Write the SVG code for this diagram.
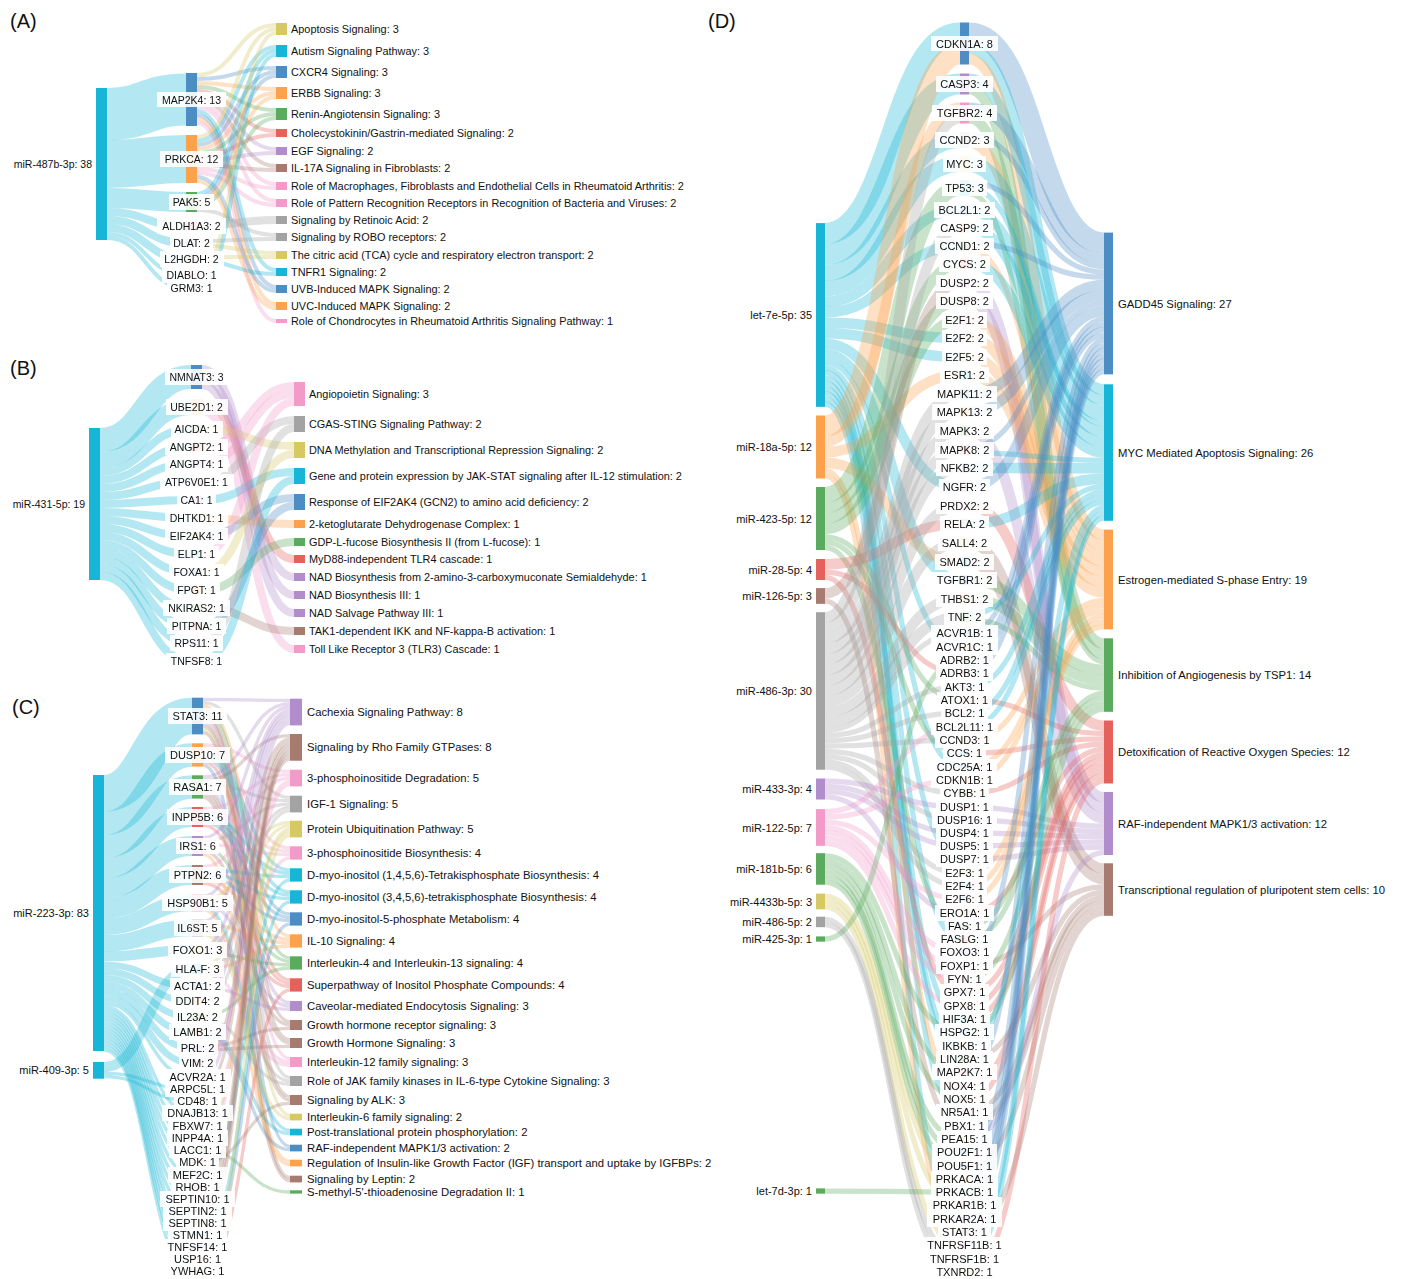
<svg xmlns="http://www.w3.org/2000/svg" width="1402" height="1279" viewBox="0 0 1402 1279">
<defs>
<filter id="bg" x="-0.08" y="-0.12" width="1.16" height="1.24" color-interpolation-filters="sRGB"><feFlood flood-color="#ffffff" flood-opacity="0.9" result="f"/><feMerge><feMergeNode in="f"/><feMergeNode in="SourceGraphic"/></feMerge></filter>
<style>
text{font-family:"Liberation Sans",Arial,Helvetica,sans-serif;fill:#111;dominant-baseline:central}
.ttl{font-size:20px;dominant-baseline:auto}
.a10{font-size:10.9px}.a105{font-size:10.5px}.a11{font-size:11px}.a113{font-size:11.3px}
.mid{text-anchor:middle;filter:url(#bg)}
.end{text-anchor:end}
.lk path{fill:none;stroke-opacity:.33}
.sb{stroke:#4c8dc4}.sc{stroke:#17b6d6}.so{stroke:#fca24c}.sg{stroke:#5aab5e}.sr{stroke:#e5615c}.sp{stroke:#b18dcc}.sn{stroke:#a77b70}.sk{stroke:#f29bc8}.sy{stroke:#a3a3a3}.sl{stroke:#d6c963}
.fb{fill:#4c8dc4}.fc{fill:#17b6d6}.fo{fill:#fca24c}.fg{fill:#5aab5e}.fr{fill:#e5615c}.fp{fill:#b18dcc}.fn{fill:#a77b70}.fk{fill:#f29bc8}.fy{fill:#a3a3a3}.fl{fill:#d6c963}
.d1{stroke-width:5.25}.d2{stroke-width:10.5}.d3{stroke-width:15.75}.d4{stroke-width:21}
</style>
</defs>
<rect width="1402" height="1279" fill="#ffffff"/>

<!-- ================= PANEL A ================= -->
<g id="panel-A">
<text class="ttl" x="10" y="28">(A)</text>
<g id="links-A" class="lk">
<path class="sc" stroke-width="52" d="M107,114C146,114 146,99.5 186,99.5"/>
<path class="sc" stroke-width="48" d="M107,164C146,164 146,159 186,159"/>
<path class="sc" stroke-width="20" d="M107,198C146,198 146,202 186,202"/>
<path class="sc" stroke-width="8" d="M107,212C146,212 146,226 186,226"/>
<path class="sc" stroke-width="8" d="M107,220C146,220 146,243 186,243"/>
<path class="sc" stroke-width="8" d="M107,228C146,228 146,259 186,259"/>
<path class="sc" stroke-width="4" d="M107,234C146,234 146,275 186,275"/>
<path class="sc" stroke-width="4" d="M107,238C146,238 146,288 186,288"/>
<g stroke-width="4">
<path class="sl" d="M197,75C236,75 236,25 276,25"/>
<path class="sb" d="M197,79C236,79 236,68 276,68"/>
<path class="so" d="M197,83C236,83 236,89 276,89"/>
<path class="sg" d="M197,87C236,87 236,110 276,110"/>
<path class="sr" d="M197,91C236,91 236,131 276,131"/>
<path class="sp" d="M197,95C236,95 236,149 276,149"/>
<path class="sn" d="M197,99C236,99 236,166 276,166"/>
<path class="sk" d="M197,103C236,103 236,184 276,184"/>
<path class="sk" d="M197,107C236,107 236,201 276,201"/>
<path class="sc" d="M197,111C236,111 236,270 276,270"/>
<path class="sb" d="M197,115C236,115 236,287 276,287"/>
<path class="so" d="M197,119C236,119 236,304 276,304"/>
<path class="sk" d="M197,123C236,123 236,321 276,321"/>
<path class="sl" d="M197,137C236,137 236,29 276,29"/>
<path class="sc" d="M197,141C236,141 236,47 276,47"/>
<path class="sb" d="M197,145C236,145 236,72 276,72"/>
<path class="so" d="M197,149C236,149 236,93 276,93"/>
<path class="sg" d="M197,153C236,153 236,114 276,114"/>
<path class="sr" d="M197,157C236,157 236,135 276,135"/>
<path class="sp" d="M197,161C236,161 236,153 276,153"/>
<path class="sn" d="M197,165C236,165 236,170 276,170"/>
<path class="sk" d="M197,169C236,169 236,188 276,188"/>
<path class="sk" d="M197,173C236,173 236,205 276,205"/>
<path class="sb" d="M197,177C236,177 236,291 276,291"/>
<path class="so" d="M197,181C236,181 236,308 276,308"/>
<path class="sc" d="M197,194C236,194 236,51 276,51"/>
<path class="sb" d="M197,198C236,198 236,76 276,76"/>
<path class="so" d="M197,202C236,202 236,97 276,97"/>
<path class="sg" d="M197,206C236,206 236,118 276,118"/>
<path class="sy" d="M197,210C236,210 236,235 276,235"/>
<path class="sy" stroke-width="8" d="M197,226C236,226 236,220 276,220"/>
<path class="sy" d="M197,241C236,241 236,239 276,239"/>
<path class="sl" d="M197,245C236,245 236,253 276,253"/>
<path class="sl" d="M197,257C236,257 236,257 276,257"/>
<path class="sc" d="M197,261C236,261 236,274 276,274"/>
<path class="sl" d="M197,275C236,275 236,33 276,33"/>
<path class="sc" d="M197,288C236,288 236,55 276,55"/>
</g>
</g>
<g id="nodes-A">
<g id="A-miR-487b-3p"><rect class="fc" x="96" y="88" width="11" height="152"/><text class="a105 end" x="92" y="164">miR-487b-3p: 38</text></g>
<g id="A-MAP2K4"><rect class="fb" x="186" y="73" width="11" height="53"/><text class="a105 mid" x="191.5" y="99.5">MAP2K4: 13</text></g>
<g id="A-PRKCA"><rect class="fo" x="186" y="135" width="11" height="48"/><text class="a105 mid" x="191.5" y="159">PRKCA: 12</text></g>
<g id="A-PAK5"><rect class="fg" x="186" y="192" width="11" height="20"/><text class="a105 mid" x="191.5" y="202">PAK5: 5</text></g>
<g id="A-ALDH1A3"><rect class="fr" x="186" y="222" width="11" height="8"/><text class="a105 mid" x="191.5" y="226">ALDH1A3: 2</text></g>
<g id="A-DLAT"><rect class="fp" x="186" y="239" width="11" height="8"/><text class="a105 mid" x="191.5" y="243">DLAT: 2</text></g>
<g id="A-L2HGDH"><rect class="fn" x="186" y="255" width="11" height="8"/><text class="a105 mid" x="191.5" y="259">L2HGDH: 2</text></g>
<g id="A-DIABLO"><rect class="fk" x="186" y="273" width="11" height="4"/><text class="a105 mid" x="191.5" y="275">DIABLO: 1</text></g>
<g id="A-GRM3"><rect class="fy" x="186" y="286" width="11" height="4"/><text class="a105 mid" x="191.5" y="288">GRM3: 1</text></g>
<g id="A-p1"><rect class="fl" x="276" y="23" width="11" height="12"/><text class="a10" x="291" y="29">Apoptosis Signaling: 3</text></g>
<g id="A-p2"><rect class="fc" x="276" y="45" width="11" height="12"/><text class="a10" x="291" y="51">Autism Signaling Pathway: 3</text></g>
<g id="A-p3"><rect class="fb" x="276" y="66" width="11" height="12"/><text class="a10" x="291" y="72">CXCR4 Signaling: 3</text></g>
<g id="A-p4"><rect class="fo" x="276" y="87" width="11" height="12"/><text class="a10" x="291" y="93">ERBB Signaling: 3</text></g>
<g id="A-p5"><rect class="fg" x="276" y="108" width="11" height="12"/><text class="a10" x="291" y="114">Renin-Angiotensin Signaling: 3</text></g>
<g id="A-p6"><rect class="fr" x="276" y="129" width="11" height="8"/><text class="a10" x="291" y="133">Cholecystokinin/Gastrin-mediated Signaling: 2</text></g>
<g id="A-p7"><rect class="fp" x="276" y="147" width="11" height="8"/><text class="a10" x="291" y="151">EGF Signaling: 2</text></g>
<g id="A-p8"><rect class="fn" x="276" y="164" width="11" height="8"/><text class="a10" x="291" y="168">IL-17A Signaling in Fibroblasts: 2</text></g>
<g id="A-p9"><rect class="fk" x="276" y="182" width="11" height="8"/><text class="a10" x="291" y="186">Role of Macrophages, Fibroblasts and Endothelial Cells in Rheumatoid Arthritis: 2</text></g>
<g id="A-p10"><rect class="fk" x="276" y="199" width="11" height="8"/><text class="a10" x="291" y="203">Role of Pattern Recognition Receptors in Recognition of Bacteria and Viruses: 2</text></g>
<g id="A-p11"><rect class="fy" x="276" y="216" width="11" height="8"/><text class="a10" x="291" y="220">Signaling by Retinoic Acid: 2</text></g>
<g id="A-p12"><rect class="fy" x="276" y="233" width="11" height="8"/><text class="a10" x="291" y="237">Signaling by ROBO receptors: 2</text></g>
<g id="A-p13"><rect class="fl" x="276" y="251" width="11" height="8"/><text class="a10" x="291" y="255">The citric acid (TCA) cycle and respiratory electron transport: 2</text></g>
<g id="A-p14"><rect class="fc" x="276" y="268" width="11" height="8"/><text class="a10" x="291" y="272">TNFR1 Signaling: 2</text></g>
<g id="A-p15"><rect class="fb" x="276" y="285" width="11" height="8"/><text class="a10" x="291" y="289">UVB-Induced MAPK Signaling: 2</text></g>
<g id="A-p16"><rect class="fo" x="276" y="302" width="11" height="8"/><text class="a10" x="291" y="306">UVC-Induced MAPK Signaling: 2</text></g>
<g id="A-p17"><rect class="fk" x="276" y="319" width="11" height="4"/><text class="a10" x="291" y="321">Role of Chondrocytes in Rheumatoid Arthritis Signaling Pathway: 1</text></g>
</g>
</g>

<!-- ================= PANEL B ================= -->
<g id="panel-B">
<text class="ttl" x="10" y="375">(B)</text>
<g id="links-B" class="lk">
<path class="sc" stroke-width="24" d="M100,440C145,440 145,377 191,377"/>
<path class="sc" stroke-width="16" d="M100,460C145,460 145,407 191,407"/>
<g stroke-width="8">
<path class="sc" d="M100,472C145,472 145,429 191,429"/>
<path class="sc" d="M100,480C145,480 145,447 191,447"/>
<path class="sc" d="M100,488C145,488 145,464 191,464"/>
<path class="sc" d="M100,496C145,496 145,482 191,482"/>
<path class="sc" d="M100,504C145,504 145,500 191,500"/>
<path class="sc" d="M100,512C145,512 145,518 191,518"/>
<path class="sc" d="M100,520C145,520 145,536 191,536"/>
<path class="sc" d="M100,528C145,528 145,554 191,554"/>
<path class="sc" d="M100,536C145,536 145,572 191,572"/>
<path class="sc" d="M100,544C145,544 145,590 191,590"/>
<path class="sc" d="M100,552C145,552 145,608 191,608"/>
<path class="sc" d="M100,560C145,560 145,626 191,626"/>
<path class="sc" d="M100,568C145,568 145,643 191,643"/>
<path class="sc" d="M100,576C145,576 145,661 191,661"/>
<path class="sp" d="M202,369C248,369 248,577 294,577"/>
<path class="sp" d="M202,377C248,377 248,595 294,595"/>
<path class="sp" d="M202,385C248,385 248,613 294,613"/>
<path class="sr" d="M202,403C248,403 248,559 294,559"/>
<path class="sk" d="M202,411C248,411 248,649 294,649"/>
<path class="sl" d="M202,429C248,429 248,446 294,446"/>
<path class="sk" d="M202,447C248,447 248,386 294,386"/>
<path class="sk" d="M202,464C248,464 248,394 294,394"/>
<path class="sy" d="M202,482C248,482 248,420 294,420"/>
<path class="sc" d="M202,500C248,500 248,472 294,472"/>
<path class="so" d="M202,518C248,518 248,524 294,524"/>
<path class="sb" d="M202,536C248,536 248,498 294,498"/>
<path class="sk" d="M202,554C248,554 248,402 294,402"/>
<path class="sl" d="M202,572C248,572 248,454 294,454"/>
<path class="sg" d="M202,590C248,590 248,542 294,542"/>
<path class="sn" d="M202,608C248,608 248,631 294,631"/>
<path class="sb" d="M202,626C248,626 248,506 294,506"/>
<path class="sy" d="M202,643C248,643 248,428 294,428"/>
<path class="sc" d="M202,661C248,661 248,480 294,480"/>
</g>
</g>
<g id="nodes-B">
<g id="B-miR-431-5p"><rect class="fc" x="89" y="428" width="11" height="152"/><text class="a105 end" x="85" y="504">miR-431-5p: 19</text></g>
<g id="B-NMNAT3"><rect class="fb" x="191" y="365" width="11" height="24"/><text class="a105 mid" x="196.5" y="377">NMNAT3: 3</text></g>
<g id="B-UBE2D1"><rect class="fo" x="191" y="399" width="11" height="16"/><text class="a105 mid" x="196.5" y="407">UBE2D1: 2</text></g>
<g id="B-AICDA"><rect class="fg" x="191" y="425" width="11" height="8"/><text class="a105 mid" x="196.5" y="429">AICDA: 1</text></g>
<g id="B-ANGPT2"><rect class="fr" x="191" y="443" width="11" height="8"/><text class="a105 mid" x="196.5" y="447">ANGPT2: 1</text></g>
<g id="B-ANGPT4"><rect class="fp" x="191" y="460" width="11" height="8"/><text class="a105 mid" x="196.5" y="464">ANGPT4: 1</text></g>
<g id="B-ATP6V0E1"><rect class="fn" x="191" y="478" width="11" height="8"/><text class="a105 mid" x="196.5" y="482">ATP6V0E1: 1</text></g>
<g id="B-CA1"><rect class="fk" x="191" y="496" width="11" height="8"/><text class="a105 mid" x="196.5" y="500">CA1: 1</text></g>
<g id="B-DHTKD1"><rect class="fy" x="191" y="514" width="11" height="8"/><text class="a105 mid" x="196.5" y="518">DHTKD1: 1</text></g>
<g id="B-EIF2AK4"><rect class="fl" x="191" y="532" width="11" height="8"/><text class="a105 mid" x="196.5" y="536">EIF2AK4: 1</text></g>
<g id="B-ELP1"><rect class="fc" x="191" y="550" width="11" height="8"/><text class="a105 mid" x="196.5" y="554">ELP1: 1</text></g>
<g id="B-FOXA1"><rect class="fb" x="191" y="568" width="11" height="8"/><text class="a105 mid" x="196.5" y="572">FOXA1: 1</text></g>
<g id="B-FPGT"><rect class="fo" x="191" y="586" width="11" height="8"/><text class="a105 mid" x="196.5" y="590">FPGT: 1</text></g>
<g id="B-NKIRAS2"><rect class="fg" x="191" y="604" width="11" height="8"/><text class="a105 mid" x="196.5" y="608">NKIRAS2: 1</text></g>
<g id="B-PITPNA"><rect class="fr" x="191" y="622" width="11" height="8"/><text class="a105 mid" x="196.5" y="626">PITPNA: 1</text></g>
<g id="B-RPS11"><rect class="fp" x="191" y="639" width="11" height="8"/><text class="a105 mid" x="196.5" y="643">RPS11: 1</text></g>
<g id="B-TNFSF8"><rect class="fn" x="191" y="657" width="11" height="8"/><text class="a105 mid" x="196.5" y="661">TNFSF8: 1</text></g>
<g id="B-p1"><rect class="fk" x="294" y="382" width="11" height="24"/><text class="a10" x="309" y="394">Angiopoietin Signaling: 3</text></g>
<g id="B-p2"><rect class="fy" x="294" y="416" width="11" height="16"/><text class="a10" x="309" y="424">CGAS-STING Signaling Pathway: 2</text></g>
<g id="B-p3"><rect class="fl" x="294" y="442" width="11" height="16"/><text class="a10" x="309" y="450">DNA Methylation and Transcriptional Repression Signaling: 2</text></g>
<g id="B-p4"><rect class="fc" x="294" y="468" width="11" height="16"/><text class="a10" x="309" y="476">Gene and protein expression by JAK-STAT signaling after IL-12 stimulation: 2</text></g>
<g id="B-p5"><rect class="fb" x="294" y="494" width="11" height="16"/><text class="a10" x="309" y="502">Response of EIF2AK4 (GCN2) to amino acid deficiency: 2</text></g>
<g id="B-p6"><rect class="fo" x="294" y="520" width="11" height="8"/><text class="a10" x="309" y="524">2-ketoglutarate Dehydrogenase Complex: 1</text></g>
<g id="B-p7"><rect class="fg" x="294" y="538" width="11" height="8"/><text class="a10" x="309" y="542">GDP-L-fucose Biosynthesis II (from L-fucose): 1</text></g>
<g id="B-p8"><rect class="fr" x="294" y="555" width="11" height="8"/><text class="a10" x="309" y="559">MyD88-independent TLR4 cascade: 1</text></g>
<g id="B-p9"><rect class="fp" x="294" y="573" width="11" height="8"/><text class="a10" x="309" y="577">NAD Biosynthesis from 2-amino-3-carboxymuconate Semialdehyde: 1</text></g>
<g id="B-p10"><rect class="fp" x="294" y="591" width="11" height="8"/><text class="a10" x="309" y="595">NAD Biosynthesis III: 1</text></g>
<g id="B-p11"><rect class="fp" x="294" y="609" width="11" height="8"/><text class="a10" x="309" y="613">NAD Salvage Pathway III: 1</text></g>
<g id="B-p12"><rect class="fn" x="294" y="627" width="11" height="8"/><text class="a10" x="309" y="631">TAK1-dependent IKK and NF-kappa-B activation: 1</text></g>
<g id="B-p13"><rect class="fk" x="294" y="645" width="11" height="8"/><text class="a10" x="309" y="649">Toll Like Receptor 3 (TLR3) Cascade: 1</text></g>
</g>
</g>

<!-- ================= PANEL C ================= -->
<g id="panel-C">
<text class="ttl" x="12" y="714">(C)</text>
<g id="links-C" class="lk">
<path class="sc" stroke-width="36.7" d="M104,793.3C148,793.3 148,716 192,716"/>
<path class="sc" stroke-width="23.3" d="M104,823.3C148,823.3 148,755 192,755"/>
<path class="sc" stroke-width="23.3" d="M104,846.6C148,846.6 148,787 192,787"/>
<path class="sc" stroke-width="20" d="M104,868.3C148,868.3 148,817 192,817"/>
<path class="sc" stroke-width="20" d="M104,888.3C148,888.3 148,846 192,846"/>
<path class="sc" stroke-width="20" d="M104,908.3C148,908.3 148,875 192,875"/>
<path class="sc" stroke-width="16.7" d="M104,926.6C148,926.6 148,903 192,903"/>
<path class="sc" stroke-width="16.7" d="M104,943.3C148,943.3 148,928 192,928"/>
<path class="sc" stroke-width="10" d="M104,956.6C148,956.6 148,950 192,950"/>
<path class="sc" stroke-width="6.7" d="M104,965C148,965 148,986 192,986"/>
<path class="sc" stroke-width="6.7" d="M104,971.6C148,971.6 148,1001 192,1001"/>
<path class="sc" stroke-width="6.7" d="M104,978.3C148,978.3 148,1017 192,1017"/>
<path class="sc" stroke-width="6.7" d="M104,985C148,985 148,1032 192,1032"/>
<path class="sc" stroke-width="6.7" d="M104,991.6C148,991.6 148,1048 192,1048"/>
<path class="sc" stroke-width="6.7" d="M104,998.3C148,998.3 148,1063 192,1063"/>
<path class="sc" stroke-width="10" d="M104,1067C148,1067 148,969 192,969"/>
<g stroke-width="3.33">
<path class="sc" d="M104,1003.3C148,1003.3 148,1077 192,1077"/>
<path class="sc" d="M104,1006.6C148,1006.6 148,1113 192,1113"/>
<path class="sc" d="M104,1010C148,1010 148,1126 192,1126"/>
<path class="sc" d="M104,1013.3C148,1013.3 148,1138 192,1138"/>
<path class="sc" d="M104,1016.6C148,1016.6 148,1150 192,1150"/>
<path class="sc" d="M104,1020C148,1020 148,1162 192,1162"/>
<path class="sc" d="M104,1023.3C148,1023.3 148,1175 192,1175"/>
<path class="sc" d="M104,1026.6C148,1026.6 148,1187 192,1187"/>
<path class="sc" d="M104,1030C148,1030 148,1199 192,1199"/>
<path class="sc" d="M104,1033.3C148,1033.3 148,1211 192,1211"/>
<path class="sc" d="M104,1036.6C148,1036.6 148,1223 192,1223"/>
<path class="sc" d="M104,1040C148,1040 148,1235 192,1235"/>
<path class="sc" d="M104,1043.3C148,1043.3 148,1247 192,1247"/>
<path class="sc" d="M104,1046.6C148,1046.6 148,1259 192,1259"/>
<path class="sc" d="M104,1050C148,1050 148,1271 192,1271"/>
<path class="sc" d="M104,1073.3C148,1073.3 148,1089 192,1089"/>
<path class="sc" d="M104,1076.7C148,1076.7 148,1101 192,1101"/>
<path class="sp" d="M203,699.4C246,699.4 246,700.4 290,700.4"/>
<path class="sy" d="M203,702.7C246,702.7 246,797.4 290,797.4"/>
<path class="so" d="M203,706C246,706 246,936 290,936"/>
<path class="sg" d="M203,709.4C246,709.4 246,958 290,958"/>
<path class="sn" d="M203,712.7C246,712.7 246,1021.7 290,1021.7"/>
<path class="sn" d="M203,716C246,716 246,1039.7 290,1039.7"/>
<path class="sk" d="M203,719.4C246,719.4 246,1058.7 290,1058.7"/>
<path class="sy" d="M203,722.7C246,722.7 246,1077.7 290,1077.7"/>
<path class="sn" d="M203,726C246,726 246,1096.7 290,1096.7"/>
<path class="sl" d="M203,729.4C246,729.4 246,1115.4 290,1115.4"/>
<path class="sn" d="M203,732.7C246,732.7 246,1177.4 290,1177.4"/>
<path class="sk" d="M203,745C246,745 246,771.4 290,771.4"/>
<path class="sk" d="M203,748.3C246,748.3 246,848 290,848"/>
<path class="sc" d="M203,751.6C246,751.6 246,870 290,870"/>
<path class="sc" d="M203,755C246,755 246,892 290,892"/>
<path class="sb" d="M203,758.3C246,758.3 246,914 290,914"/>
<path class="sr" d="M203,761.6C246,761.6 246,980 290,980"/>
<path class="sb" d="M203,765C246,765 246,1146.4 290,1146.4"/>
<path class="sp" d="M203,777C246,777 246,703.7 290,703.7"/>
<path class="sn" d="M203,780.3C246,780.3 246,735.7 290,735.7"/>
<path class="sy" d="M203,783.6C246,783.6 246,800.7 290,800.7"/>
<path class="sp" d="M203,787C246,787 246,1002.7 290,1002.7"/>
<path class="sn" d="M203,790.3C246,790.3 246,1043 290,1043"/>
<path class="sn" d="M203,793.6C246,793.6 246,1100 290,1100"/>
<path class="sn" d="M203,797C246,797 246,1180.7 290,1180.7"/>
<path class="sk" d="M203,808.7C246,808.7 246,774.7 290,774.7"/>
<path class="sk" d="M203,812C246,812 246,851.3 290,851.3"/>
<path class="sc" d="M203,815.3C246,815.3 246,873.3 290,873.3"/>
<path class="sc" d="M203,818.7C246,818.7 246,895.3 290,895.3"/>
<path class="sb" d="M203,822C246,822 246,917.3 290,917.3"/>
<path class="sr" d="M203,825.3C246,825.3 246,983.3 290,983.3"/>
<path class="sp" d="M203,837.7C246,837.7 246,707 290,707"/>
<path class="sy" d="M203,841C246,841 246,804 290,804"/>
<path class="sk" d="M203,844.3C246,844.3 246,854.6 290,854.6"/>
<path class="sg" d="M203,847.7C246,847.7 246,961.3 290,961.3"/>
<path class="sn" d="M203,851C246,851 246,1025 290,1025"/>
<path class="so" d="M203,854.3C246,854.3 246,1161.4 290,1161.4"/>
<path class="sk" d="M203,866.7C246,866.7 246,778 290,778"/>
<path class="sc" d="M203,870C246,870 246,876.6 290,876.6"/>
<path class="sc" d="M203,873.3C246,873.3 246,898.6 290,898.6"/>
<path class="sb" d="M203,876.7C246,876.7 246,920.6 290,920.6"/>
<path class="so" d="M203,880C246,880 246,939.3 290,939.3"/>
<path class="sr" d="M203,883.3C246,883.3 246,986.6 290,986.6"/>
<path class="sp" d="M203,896.4C246,896.4 246,710.4 290,710.4"/>
<path class="sl" d="M203,899.7C246,899.7 246,822.4 290,822.4"/>
<path class="sp" d="M203,903C246,903 246,1006 290,1006"/>
<path class="sc" d="M203,906.4C246,906.4 246,1130.4 290,1130.4"/>
<path class="so" d="M203,909.7C246,909.7 246,1164.7 290,1164.7"/>
<path class="sp" d="M203,921.4C246,921.4 246,713.7 290,713.7"/>
<path class="so" d="M203,924.7C246,924.7 246,942.6 290,942.6"/>
<path class="sk" d="M203,928C246,928 246,1062 290,1062"/>
<path class="sy" d="M203,931.4C246,931.4 246,1081 290,1081"/>
<path class="sl" d="M203,934.7C246,934.7 246,1118.7 290,1118.7"/>
<path class="sp" d="M203,946.7C246,946.7 246,717 290,717"/>
<path class="sy" d="M203,950C246,950 246,807.4 290,807.4"/>
<path class="sg" d="M203,953.3C246,953.3 246,964.6 290,964.6"/>
<path class="sl" d="M203,965.7C246,965.7 246,825.7 290,825.7"/>
<path class="so" d="M203,969C246,969 246,946 290,946"/>
<path class="sk" d="M203,972.3C246,972.3 246,1065.3 290,1065.3"/>
<path class="sn" d="M203,984.4C246,984.4 246,739 290,739"/>
<path class="sp" d="M203,987.7C246,987.7 246,1009.3 290,1009.3"/>
<path class="sp" d="M203,999.4C246,999.4 246,720.4 290,720.4"/>
<path class="sy" d="M203,1002.7C246,1002.7 246,810.7 290,810.7"/>
<path class="sg" d="M203,1015.4C246,1015.4 246,968 290,968"/>
<path class="sy" d="M203,1018.7C246,1018.7 246,1084.3 290,1084.3"/>
<path class="sc" d="M203,1030.4C246,1030.4 246,1133.7 290,1133.7"/>
<path class="sb" d="M203,1033.7C246,1033.7 246,1149.7 290,1149.7"/>
<path class="sn" d="M203,1046.4C246,1046.4 246,1028.3 290,1028.3"/>
<path class="sn" d="M203,1049.7C246,1049.7 246,1046.3 290,1046.3"/>
<path class="sn" d="M203,1061.4C246,1061.4 246,742.3 290,742.3"/>
<path class="sk" d="M203,1064.7C246,1064.7 246,781.4 290,781.4"/>
<path class="sp" d="M203,1077C246,1077 246,723.7 290,723.7"/>
<path class="sn" d="M203,1089C246,1089 246,745.7 290,745.7"/>
<path class="sk" d="M203,1101C246,1101 246,858 290,858"/>
<path class="sl" d="M203,1113C246,1113 246,829 290,829"/>
<path class="sl" d="M203,1126C246,1126 246,832.4 290,832.4"/>
<path class="sk" d="M203,1138C246,1138 246,784.7 290,784.7"/>
<path class="sg" d="M203,1150C246,1150 246,1192 290,1192"/>
<path class="sn" d="M203,1162C246,1162 246,1103.3 290,1103.3"/>
<path class="sc" d="M203,1175C246,1175 246,880 290,880"/>
<path class="sn" d="M203,1187C246,1187 246,749 290,749"/>
<path class="sn" d="M203,1199C246,1199 246,752.3 290,752.3"/>
<path class="sn" d="M203,1211C246,1211 246,755.7 290,755.7"/>
<path class="sn" d="M203,1223C246,1223 246,759 290,759"/>
<path class="sc" d="M203,1235C246,1235 246,902 290,902"/>
<path class="sb" d="M203,1247C246,1247 246,924 290,924"/>
<path class="sl" d="M203,1259C246,1259 246,835.7 290,835.7"/>
<path class="sr" d="M203,1271C246,1271 246,990 290,990"/>
</g>
</g>
<g id="nodes-C">
<g id="C-miR-223-3p"><rect class="fc" x="93" y="775" width="11" height="276"/><text class="a11 end" x="89" y="913">miR-223-3p: 83</text></g>
<g id="C-miR-409-3p"><rect class="fc" x="93" y="1062" width="11" height="16.7"/><text class="a11 end" x="89" y="1070">miR-409-3p: 5</text></g>
<g id="C-STAT3"><rect class="fb" x="192" y="697.7" width="11" height="36.7"/><text class="a11 mid" x="197.5" y="716">STAT3: 11</text></g>
<g id="C-DUSP10"><rect class="fo" x="192" y="743.3" width="11" height="23.3"/><text class="a11 mid" x="197.5" y="755">DUSP10: 7</text></g>
<g id="C-RASA1"><rect class="fg" x="192" y="775.3" width="11" height="23.3"/><text class="a11 mid" x="197.5" y="787">RASA1: 7</text></g>
<g id="C-INPP5B"><rect class="fr" x="192" y="807" width="11" height="20"/><text class="a11 mid" x="197.5" y="817">INPP5B: 6</text></g>
<g id="C-IRS1"><rect class="fp" x="192" y="836" width="11" height="20"/><text class="a11 mid" x="197.5" y="846">IRS1: 6</text></g>
<g id="C-PTPN2"><rect class="fn" x="192" y="865" width="11" height="20"/><text class="a11 mid" x="197.5" y="875">PTPN2: 6</text></g>
<g id="C-HSP90B1"><rect class="fk" x="192" y="894.7" width="11" height="16.7"/><text class="a11 mid" x="197.5" y="903">HSP90B1: 5</text></g>
<g id="C-IL6ST"><rect class="fy" x="192" y="919.7" width="11" height="16.7"/><text class="a11 mid" x="197.5" y="928">IL6ST: 5</text></g>
<g id="C-FOXO1"><rect class="fl" x="192" y="945" width="11" height="10"/><text class="a11 mid" x="197.5" y="950">FOXO1: 3</text></g>
<g id="C-HLA-F"><rect class="fc" x="192" y="964" width="11" height="10"/><text class="a11 mid" x="197.5" y="969">HLA-F: 3</text></g>
<g id="C-ACTA1"><rect class="fb" x="192" y="982.7" width="11" height="6.7"/><text class="a11 mid" x="197.5" y="986">ACTA1: 2</text></g>
<g id="C-DDIT4"><rect class="fo" x="192" y="997.7" width="11" height="6.7"/><text class="a11 mid" x="197.5" y="1001">DDIT4: 2</text></g>
<g id="C-IL23A"><rect class="fg" x="192" y="1013.7" width="11" height="6.7"/><text class="a11 mid" x="197.5" y="1017">IL23A: 2</text></g>
<g id="C-LAMB1"><rect class="fr" x="192" y="1028.7" width="11" height="6.7"/><text class="a11 mid" x="197.5" y="1032">LAMB1: 2</text></g>
<g id="C-PRL"><rect class="fp" x="192" y="1044.7" width="11" height="6.7"/><text class="a11 mid" x="197.5" y="1048">PRL: 2</text></g>
<g id="C-VIM"><rect class="fn" x="192" y="1059.7" width="11" height="6.7"/><text class="a11 mid" x="197.5" y="1063">VIM: 2</text></g>
<g id="C-ACVR2A"><rect class="fk" x="192" y="1075.3" width="11" height="3.3"/><text class="a11 mid" x="197.5" y="1077">ACVR2A: 1</text></g>
<g id="C-ARPC5L"><rect class="fy" x="192" y="1087.3" width="11" height="3.3"/><text class="a11 mid" x="197.5" y="1089">ARPC5L: 1</text></g>
<g id="C-CD48"><rect class="fl" x="192" y="1099.3" width="11" height="3.3"/><text class="a11 mid" x="197.5" y="1101">CD48: 1</text></g>
<g id="C-DNAJB13"><rect class="fc" x="192" y="1111.3" width="11" height="3.3"/><text class="a11 mid" x="197.5" y="1113">DNAJB13: 1</text></g>
<g id="C-FBXW7"><rect class="fb" x="192" y="1124.3" width="11" height="3.3"/><text class="a11 mid" x="197.5" y="1126">FBXW7: 1</text></g>
<g id="C-INPP4A"><rect class="fo" x="192" y="1136.3" width="11" height="3.3"/><text class="a11 mid" x="197.5" y="1138">INPP4A: 1</text></g>
<g id="C-LACC1"><rect class="fg" x="192" y="1148.3" width="11" height="3.3"/><text class="a11 mid" x="197.5" y="1150">LACC1: 1</text></g>
<g id="C-MDK"><rect class="fr" x="192" y="1160.3" width="11" height="3.3"/><text class="a11 mid" x="197.5" y="1162">MDK: 1</text></g>
<g id="C-MEF2C"><rect class="fp" x="192" y="1173.3" width="11" height="3.3"/><text class="a11 mid" x="197.5" y="1175">MEF2C: 1</text></g>
<g id="C-RHOB"><rect class="fn" x="192" y="1185.3" width="11" height="3.3"/><text class="a11 mid" x="197.5" y="1187">RHOB: 1</text></g>
<g id="C-SEPTIN10"><rect class="fk" x="192" y="1197.3" width="11" height="3.3"/><text class="a11 mid" x="197.5" y="1199">SEPTIN10: 1</text></g>
<g id="C-SEPTIN2"><rect class="fy" x="192" y="1209.3" width="11" height="3.3"/><text class="a11 mid" x="197.5" y="1211">SEPTIN2: 1</text></g>
<g id="C-SEPTIN8"><rect class="fl" x="192" y="1221.3" width="11" height="3.3"/><text class="a11 mid" x="197.5" y="1223">SEPTIN8: 1</text></g>
<g id="C-STMN1"><rect class="fc" x="192" y="1233.3" width="11" height="3.3"/><text class="a11 mid" x="197.5" y="1235">STMN1: 1</text></g>
<g id="C-TNFSF14"><rect class="fb" x="192" y="1245.3" width="11" height="3.3"/><text class="a11 mid" x="197.5" y="1247">TNFSF14: 1</text></g>
<g id="C-USP16"><rect class="fo" x="192" y="1257.3" width="11" height="3.3"/><text class="a11 mid" x="197.5" y="1259">USP16: 1</text></g>
<g id="C-YWHAG"><rect class="fg" x="192" y="1269.3" width="11" height="3.3"/><text class="a11 mid" x="197.5" y="1271">YWHAG: 1</text></g>
<g id="C-p1"><rect class="fp" x="290" y="698.7" width="12" height="26.7"/><text class="a113" x="307" y="712">Cachexia Signaling Pathway: 8</text></g>
<g id="C-p2"><rect class="fn" x="290" y="734" width="12" height="26.7"/><text class="a113" x="307" y="747.3">Signaling by Rho Family GTPases: 8</text></g>
<g id="C-p3"><rect class="fk" x="290" y="769.7" width="12" height="16.7"/><text class="a113" x="307" y="778">3-phosphoinositide Degradation: 5</text></g>
<g id="C-p4"><rect class="fy" x="290" y="795.7" width="12" height="16.7"/><text class="a113" x="307" y="804">IGF-1 Signaling: 5</text></g>
<g id="C-p5"><rect class="fl" x="290" y="820.7" width="12" height="16.7"/><text class="a113" x="307" y="829">Protein Ubiquitination Pathway: 5</text></g>
<g id="C-p6"><rect class="fk" x="290" y="846.3" width="12" height="13.3"/><text class="a113" x="307" y="853">3-phosphoinositide Biosynthesis: 4</text></g>
<g id="C-p7"><rect class="fc" x="290" y="868.3" width="12" height="13.3"/><text class="a113" x="307" y="875">D-myo-inositol (1,4,5,6)-Tetrakisphosphate Biosynthesis: 4</text></g>
<g id="C-p8"><rect class="fc" x="290" y="890.3" width="12" height="13.3"/><text class="a113" x="307" y="897">D-myo-inositol (3,4,5,6)-tetrakisphosphate Biosynthesis: 4</text></g>
<g id="C-p9"><rect class="fb" x="290" y="912.3" width="12" height="13.3"/><text class="a113" x="307" y="919">D-myo-inositol-5-phosphate Metabolism: 4</text></g>
<g id="C-p10"><rect class="fo" x="290" y="934.3" width="12" height="13.3"/><text class="a113" x="307" y="941">IL-10 Signaling: 4</text></g>
<g id="C-p11"><rect class="fg" x="290" y="956.3" width="12" height="13.3"/><text class="a113" x="307" y="963">Interleukin-4 and Interleukin-13 signaling: 4</text></g>
<g id="C-p12"><rect class="fr" x="290" y="978.3" width="12" height="13.3"/><text class="a113" x="307" y="985">Superpathway of Inositol Phosphate Compounds: 4</text></g>
<g id="C-p13"><rect class="fp" x="290" y="1001" width="12" height="10"/><text class="a113" x="307" y="1006">Caveolar-mediated Endocytosis Signaling: 3</text></g>
<g id="C-p14"><rect class="fn" x="290" y="1020" width="12" height="10"/><text class="a113" x="307" y="1025">Growth hormone receptor signaling: 3</text></g>
<g id="C-p15"><rect class="fn" x="290" y="1038" width="12" height="10"/><text class="a113" x="307" y="1043">Growth Hormone Signaling: 3</text></g>
<g id="C-p16"><rect class="fk" x="290" y="1057" width="12" height="10"/><text class="a113" x="307" y="1062">Interleukin-12 family signaling: 3</text></g>
<g id="C-p17"><rect class="fy" x="290" y="1076" width="12" height="10"/><text class="a113" x="307" y="1081">Role of JAK family kinases in IL-6-type Cytokine Signaling: 3</text></g>
<g id="C-p18"><rect class="fn" x="290" y="1095" width="12" height="10"/><text class="a113" x="307" y="1100">Signaling by ALK: 3</text></g>
<g id="C-p19"><rect class="fl" x="290" y="1113.7" width="12" height="6.7"/><text class="a113" x="307" y="1117">Interleukin-6 family signaling: 2</text></g>
<g id="C-p20"><rect class="fc" x="290" y="1128.7" width="12" height="6.7"/><text class="a113" x="307" y="1132">Post-translational protein phosphorylation: 2</text></g>
<g id="C-p21"><rect class="fb" x="290" y="1144.7" width="12" height="6.7"/><text class="a113" x="307" y="1148">RAF-independent MAPK1/3 activation: 2</text></g>
<g id="C-p22"><rect class="fo" x="290" y="1159.7" width="12" height="6.7"/><text class="a113" x="307" y="1163">Regulation of Insulin-like Growth Factor (IGF) transport and uptake by IGFBPs: 2</text></g>
<g id="C-p23"><rect class="fn" x="290" y="1175.7" width="12" height="6.7"/><text class="a113" x="307" y="1179">Signaling by Leptin: 2</text></g>
<g id="C-p24"><rect class="fg" x="290" y="1190.3" width="12" height="3.3"/><text class="a113" x="307" y="1192">S-methyl-5'-thioadenosine Degradation II: 1</text></g>
</g>
</g>

<!-- ================= PANEL D ================= -->
<g id="panel-D">
<text class="ttl" x="708" y="28">(D)</text>
<g id="links-D" class="lk">
<path class="sc d4" d="M825,233.6C892,233.6 892,33 960,33"/>
<path class="sc d4" d="M825,254.6C892,254.6 892,84 960,84"/>
<path class="sc d3" d="M825,273C892,273 892,140 960,140"/>
<path class="sc d3" d="M825,288.7C892,288.7 892,164 960,164"/>
<path class="sc d2" d="M825,301.85C892,301.85 892,210 960,210"/>
<path class="sc d2" d="M825,312.35C892,312.35 892,246 960,246"/>
<path class="sc d2" d="M825,322.85C892,322.85 892,338 960,338"/>
<path class="sc d2" d="M825,333.35C892,333.35 892,357 960,357"/>
<path class="sc d2" d="M825,343.85C892,343.85 892,487 960,487"/>
<path class="sc d2" d="M825,354.35C892,354.35 892,580 960,580"/>
<path class="sc d1" d="M825,362.2C892,362.2 892,647 960,647"/>
<path class="sc d1" d="M825,367.5C892,367.5 892,767 960,767"/>
<path class="sc d1" d="M825,372.7C892,372.7 892,859 960,859"/>
<path class="sc d1" d="M825,378C892,378 892,939 960,939"/>
<path class="sc d1" d="M825,383.2C892,383.2 892,1019 960,1019"/>
<path class="sc d1" d="M825,388.5C892,388.5 892,1046 960,1046"/>
<path class="sc d1" d="M825,393.7C892,393.7 892,1059 960,1059"/>
<path class="sc d1" d="M825,399C892,399 892,1112 960,1112"/>
<path class="sc d1" d="M825,404.2C892,404.2 892,1219 960,1219"/>
<path class="so d4" d="M825,426C892,426 892,54 960,54"/>
<path class="so d2" d="M825,441.75C892,441.75 892,107.75 960,107.75"/>
<path class="so d2" d="M825,452.25C892,452.25 892,375 960,375"/>
<path class="so d2" d="M825,462.75C892,462.75 892,562 960,562"/>
<path class="so d1" d="M825,470.6C892,470.6 892,1086 960,1086"/>
<path class="so d1" d="M825,475.9C892,475.9 892,1232 960,1232"/>
<path class="sg d3" d="M825,494.9C892,494.9 892,188 960,188"/>
<path class="sg d2" d="M825,508C892,508 892,264 960,264"/>
<path class="sg d2" d="M825,518.5C892,518.5 892,301 960,301"/>
<path class="sg d2" d="M825,529C892,529 892,320 960,320"/>
<path class="sg d1" d="M825,536.9C892,536.9 892,700 960,700"/>
<path class="sg d1" d="M825,542.1C892,542.1 892,753 960,753"/>
<path class="sg d1" d="M825,547.4C892,547.4 892,926 960,926"/>
<path class="sr d2" d="M825,564.25C892,564.25 892,524 960,524"/>
<path class="sr d1" d="M825,572.1C892,572.1 892,673 960,673"/>
<path class="sr d1" d="M825,577.4C892,577.4 892,992 960,992"/>
<path class="sn d2" d="M825,593.35C892,593.35 892,283 960,283"/>
<path class="sn d1" d="M825,601.2C892,601.2 892,1126 960,1126"/>
<path class="sy d2" d="M825,617.45C892,617.45 892,118.25 960,118.25"/>
<path class="sy d2" d="M825,627.95C892,627.95 892,228 960,228"/>
<path class="sy d2" d="M825,638.45C892,638.45 892,394 960,394"/>
<path class="sy d2" d="M825,648.95C892,648.95 892,412 960,412"/>
<path class="sy d2" d="M825,659.45C892,659.45 892,431 960,431"/>
<path class="sy d2" d="M825,669.95C892,669.95 892,450 960,450"/>
<path class="sy d2" d="M825,680.45C892,680.45 892,468 960,468"/>
<path class="sy d2" d="M825,690.95C892,690.95 892,506 960,506"/>
<path class="sy d2" d="M825,701.45C892,701.45 892,543 960,543"/>
<path class="sy d2" d="M825,711.95C892,711.95 892,599 960,599"/>
<path class="sy d2" d="M825,722.45C892,722.45 892,617 960,617"/>
<path class="sy d1" d="M825,730.3C892,730.3 892,633 960,633"/>
<path class="sy d1" d="M825,735.6C892,735.6 892,687 960,687"/>
<path class="sy d1" d="M825,740.8C892,740.8 892,713 960,713"/>
<path class="sy d1" d="M825,746.1C892,746.1 892,740 960,740"/>
<path class="sy d1" d="M825,751.3C892,751.3 892,793 960,793"/>
<path class="sy d1" d="M825,756.6C892,756.6 892,820 960,820"/>
<path class="sy d1" d="M825,761.8C892,761.8 892,873 960,873"/>
<path class="sy d1" d="M825,767.1C892,767.1 892,886 960,886"/>
<path class="sp d1" d="M825,781.1C892,781.1 892,807 960,807"/>
<path class="sp d1" d="M825,786.4C892,786.4 892,833 960,833"/>
<path class="sp d1" d="M825,791.6C892,791.6 892,846 960,846"/>
<path class="sp d1" d="M825,796.9C892,796.9 892,913 960,913"/>
<path class="sk d1" d="M825,811.7C892,811.7 892,727 960,727"/>
<path class="sk d1" d="M825,817C892,817 892,780 960,780"/>
<path class="sk d1" d="M825,822.2C892,822.2 892,899 960,899"/>
<path class="sk d1" d="M825,827.5C892,827.5 892,952 960,952"/>
<path class="sk d1" d="M825,832.7C892,832.7 892,966 960,966"/>
<path class="sk d1" d="M825,838C892,838 892,979 960,979"/>
<path class="sk d1" d="M825,843.3C892,843.3 892,1006 960,1006"/>
<path class="sg d1" d="M825,855.8C892,855.8 892,1032 960,1032"/>
<path class="sg d1" d="M825,861.1C892,861.1 892,1072 960,1072"/>
<path class="sg d1" d="M825,866.3C892,866.3 892,1099 960,1099"/>
<path class="sg d1" d="M825,871.6C892,871.6 892,1139 960,1139"/>
<path class="sg d1" d="M825,876.8C892,876.8 892,1152 960,1152"/>
<path class="sg d1" d="M825,882.1C892,882.1 892,1166 960,1166"/>
<path class="sl d1" d="M825,896.2C892,896.2 892,1179 960,1179"/>
<path class="sl d1" d="M825,901.5C892,901.5 892,1205 960,1205"/>
<path class="sl d1" d="M825,906.8C892,906.8 892,1245 960,1245"/>
<path class="sy d1" d="M825,919.3C892,919.3 892,1259 960,1259"/>
<path class="sy d1" d="M825,924.6C892,924.6 892,1272 960,1272"/>
<path class="sg d1" d="M825,939C892,939 892,660 960,660"/>
<path class="sg d1" d="M825,1191C892,1191 892,1192 960,1192"/>
<path class="sb d4" d="M969,33C1036,33 1036,243.1 1104,243.1"/>
<path class="sc d2" d="M969,48.75C1036,48.75 1036,389.55 1104,389.55"/>
<path class="so d2" d="M969,59.25C1036,59.25 1036,534.85 1104,534.85"/>
<path class="sc d2" d="M969,78.75C1036,78.75 1036,400.05 1104,400.05"/>
<path class="sg d2" d="M969,89.25C1036,89.25 1036,643.55 1104,643.55"/>
<path class="sb d2" d="M969,107.75C1036,107.75 1036,258.85 1104,258.85"/>
<path class="sg d2" d="M969,118.25C1036,118.25 1036,654.05 1104,654.05"/>
<path class="sb d1" d="M969,134.75C1036,134.75 1036,266.7 1104,266.7"/>
<path class="so d2" d="M969,142.6C1036,142.6 1036,545.35 1104,545.35"/>
<path class="sc d3" d="M969,164C1036,164 1036,413.2 1104,413.2"/>
<path class="sb d1" d="M969,182.75C1036,182.75 1036,272 1104,272"/>
<path class="sc d1" d="M969,188C1036,188 1036,423.7 1104,423.7"/>
<path class="sg d1" d="M969,193.25C1036,193.25 1036,661.9 1104,661.9"/>
<path class="sc d2" d="M969,210C1036,210 1036,431.55 1104,431.55"/>
<path class="sc d2" d="M969,228C1036,228 1036,442.05 1104,442.05"/>
<path class="sb d1" d="M969,243.4C1036,243.4 1036,277.2 1104,277.2"/>
<path class="so d1" d="M969,248.6C1036,248.6 1036,553.2 1104,553.2"/>
<path class="sc d2" d="M969,264C1036,264 1036,452.55 1104,452.55"/>
<path class="sp d2" d="M969,283C1036,283 1036,797.25 1104,797.25"/>
<path class="sp d2" d="M969,301C1036,301 1036,807.75 1104,807.75"/>
<path class="so d2" d="M969,320C1036,320 1036,561.1 1104,561.1"/>
<path class="so d2" d="M969,338C1036,338 1036,571.6 1104,571.6"/>
<path class="so d2" d="M969,357C1036,357 1036,582.1 1104,582.1"/>
<path class="so d2" d="M969,375C1036,375 1036,592.6 1104,592.6"/>
<path class="sb d2" d="M969,394C1036,394 1036,285.1 1104,285.1"/>
<path class="sb d2" d="M969,412C1036,412 1036,295.6 1104,295.6"/>
<path class="sp d2" d="M969,431C1036,431 1036,818.25 1104,818.25"/>
<path class="sb d1" d="M969,447.4C1036,447.4 1036,303.5 1104,303.5"/>
<path class="sc d1" d="M969,452.6C1036,452.6 1036,460.4 1104,460.4"/>
<path class="sc d2" d="M969,468C1036,468 1036,468.3 1104,468.3"/>
<path class="sb d2" d="M969,487C1036,487 1036,311.35 1104,311.35"/>
<path class="sr d2" d="M969,506C1036,506 1036,725.75 1104,725.75"/>
<path class="sc d2" d="M969,524C1036,524 1036,478.8 1104,478.8"/>
<path class="sn d2" d="M969,543C1036,543 1036,868.55 1104,868.55"/>
<path class="sn d2" d="M969,562C1036,562 1036,879.05 1104,879.05"/>
<path class="sg d2" d="M969,580C1036,580 1036,669.8 1104,669.8"/>
<path class="sg d2" d="M969,599C1036,599 1036,680.3 1104,680.3"/>
<path class="sc d1" d="M969,614.4C1036,614.4 1036,486.7 1104,486.7"/>
<path class="sg d1" d="M969,619.6C1036,619.6 1036,688.2 1104,688.2"/>
<path class="sb d1" d="M969,633C1036,633 1036,319.2 1104,319.2"/>
<path class="sb d1" d="M969,647C1036,647 1036,324.5 1104,324.5"/>
<path class="sb d1" d="M969,660C1036,660 1036,329.7 1104,329.7"/>
<path class="sb d1" d="M969,673C1036,673 1036,335 1104,335"/>
<path class="sc d1" d="M969,687C1036,687 1036,491.9 1104,491.9"/>
<path class="sr d1" d="M969,700C1036,700 1036,733.6 1104,733.6"/>
<path class="sc d1" d="M969,713C1036,713 1036,497.2 1104,497.2"/>
<path class="sc d1" d="M969,727C1036,727 1036,502.4 1104,502.4"/>
<path class="so d1" d="M969,740C1036,740 1036,600.5 1104,600.5"/>
<path class="sr d1" d="M969,753C1036,753 1036,738.9 1104,738.9"/>
<path class="so d1" d="M969,767C1036,767 1036,605.7 1104,605.7"/>
<path class="so d1" d="M969,780C1036,780 1036,611 1104,611"/>
<path class="sr d1" d="M969,793C1036,793 1036,744.1 1104,744.1"/>
<path class="sp d1" d="M969,807C1036,807 1036,826.1 1104,826.1"/>
<path class="sp d1" d="M969,820C1036,820 1036,831.4 1104,831.4"/>
<path class="sp d1" d="M969,833C1036,833 1036,836.6 1104,836.6"/>
<path class="sp d1" d="M969,846C1036,846 1036,841.9 1104,841.9"/>
<path class="sp d1" d="M969,859C1036,859 1036,847.1 1104,847.1"/>
<path class="so d1" d="M969,873C1036,873 1036,616.2 1104,616.2"/>
<path class="so d1" d="M969,886C1036,886 1036,621.5 1104,621.5"/>
<path class="so d1" d="M969,899C1036,899 1036,626.7 1104,626.7"/>
<path class="sr d1" d="M969,913C1036,913 1036,749.4 1104,749.4"/>
<path class="sg d1" d="M969,926C1036,926 1036,693.4 1104,693.4"/>
<path class="sg d1" d="M969,939C1036,939 1036,698.7 1104,698.7"/>
<path class="sb d1" d="M969,952C1036,952 1036,340.2 1104,340.2"/>
<path class="sn d1" d="M969,966C1036,966 1036,886.9 1104,886.9"/>
<path class="sg d1" d="M969,979C1036,979 1036,703.9 1104,703.9"/>
<path class="sr d1" d="M969,992C1036,992 1036,754.6 1104,754.6"/>
<path class="sr d1" d="M969,1006C1036,1006 1036,759.9 1104,759.9"/>
<path class="sr d1" d="M969,1019C1036,1019 1036,765.1 1104,765.1"/>
<path class="sg d1" d="M969,1032C1036,1032 1036,709.2 1104,709.2"/>
<path class="sc d1" d="M969,1046C1036,1046 1036,507.7 1104,507.7"/>
<path class="sn d1" d="M969,1059C1036,1059 1036,892.2 1104,892.2"/>
<path class="sb d1" d="M969,1072C1036,1072 1036,345.5 1104,345.5"/>
<path class="sr d1" d="M969,1086C1036,1086 1036,770.4 1104,770.4"/>
<path class="sr d1" d="M969,1099C1036,1099 1036,775.6 1104,775.6"/>
<path class="sn d1" d="M969,1112C1036,1112 1036,897.4 1104,897.4"/>
<path class="sn d1" d="M969,1126C1036,1126 1036,902.7 1104,902.7"/>
<path class="sp d1" d="M969,1139C1036,1139 1036,852.4 1104,852.4"/>
<path class="sb d1" d="M969,1152C1036,1152 1036,350.7 1104,350.7"/>
<path class="sn d1" d="M969,1166C1036,1166 1036,907.9 1104,907.9"/>
<path class="sb d1" d="M969,1179C1036,1179 1036,356 1104,356"/>
<path class="sb d1" d="M969,1192C1036,1192 1036,361.2 1104,361.2"/>
<path class="sb d1" d="M969,1205C1036,1205 1036,366.5 1104,366.5"/>
<path class="sb d1" d="M969,1219C1036,1219 1036,371.7 1104,371.7"/>
<path class="sn d1" d="M969,1232C1036,1232 1036,913.2 1104,913.2"/>
<path class="sc d1" d="M969,1245C1036,1245 1036,512.9 1104,512.9"/>
<path class="sc d1" d="M969,1259C1036,1259 1036,518.2 1104,518.2"/>
<path class="sr d1" d="M969,1272C1036,1272 1036,780.9 1104,780.9"/>
</g>
<g id="nodes-D">
<g id="D-let-7e-5p"><rect class="fc" x="816" y="223.1" width="9" height="183.75"/><text class="a11 end" x="812" y="315">let-7e-5p: 35</text></g>
<g id="D-miR-18a-5p"><rect class="fo" x="816" y="415.5" width="9" height="63"/><text class="a11 end" x="812" y="447">miR-18a-5p: 12</text></g>
<g id="D-miR-423-5p"><rect class="fg" x="816" y="487" width="9" height="63"/><text class="a11 end" x="812" y="518.5">miR-423-5p: 12</text></g>
<g id="D-miR-28-5p"><rect class="fr" x="816" y="559" width="9" height="21"/><text class="a11 end" x="812" y="569.5">miR-28-5p: 4</text></g>
<g id="D-miR-126-5p"><rect class="fn" x="816" y="588.1" width="9" height="15.75"/><text class="a11 end" x="812" y="596">miR-126-5p: 3</text></g>
<g id="D-miR-486-3p"><rect class="fy" x="816" y="612.2" width="9" height="157.5"/><text class="a11 end" x="812" y="691">miR-486-3p: 30</text></g>
<g id="D-miR-433-3p"><rect class="fp" x="816" y="778.5" width="9" height="21"/><text class="a11 end" x="812" y="789">miR-433-3p: 4</text></g>
<g id="D-miR-122-5p"><rect class="fk" x="816" y="809.1" width="9" height="36.75"/><text class="a11 end" x="812" y="827.5">miR-122-5p: 7</text></g>
<g id="D-miR-181b-5p"><rect class="fg" x="816" y="853.2" width="9" height="31.5"/><text class="a11 end" x="812" y="869">miR-181b-5p: 6</text></g>
<g id="D-miR-4433b-5p"><rect class="fl" x="816" y="893.6" width="9" height="15.75"/><text class="a11 end" x="812" y="901.5">miR-4433b-5p: 3</text></g>
<g id="D-miR-486-5p"><rect class="fy" x="816" y="916.7" width="9" height="10.5"/><text class="a11 end" x="812" y="922">miR-486-5p: 2</text></g>
<g id="D-miR-425-3p"><rect class="fg" x="816" y="936.4" width="9" height="5.25"/><text class="a11 end" x="812" y="939">miR-425-3p: 1</text></g>
<g id="D-let-7d-3p"><rect class="fg" x="816" y="1188.4" width="9" height="5.25"/><text class="a11 end" x="812" y="1191">let-7d-3p: 1</text></g>
<g id="D-p1"><rect class="fb" x="1104" y="232.6" width="9" height="141.75"/><text class="a113" x="1118" y="303.5">GADD45 Signaling: 27</text></g>
<g id="D-p2"><rect class="fc" x="1104" y="384.3" width="9" height="136.5"/><text class="a113" x="1118" y="452.5">MYC Mediated Apoptosis Signaling: 26</text></g>
<g id="D-p3"><rect class="fo" x="1104" y="529.6" width="9" height="99.75"/><text class="a113" x="1118" y="579.5">Estrogen-mediated S-phase Entry: 19</text></g>
<g id="D-p4"><rect class="fg" x="1104" y="638.3" width="9" height="73.5"/><text class="a113" x="1118" y="675">Inhibition of Angiogenesis by TSP1: 14</text></g>
<g id="D-p5"><rect class="fr" x="1104" y="720.5" width="9" height="63"/><text class="a113" x="1118" y="752">Detoxification of Reactive Oxygen Species: 12</text></g>
<g id="D-p6"><rect class="fp" x="1104" y="792" width="9" height="63"/><text class="a113" x="1118" y="823.5">RAF-independent MAPK1/3 activation: 12</text></g>
<g id="D-p7"><rect class="fn" x="1104" y="863.3" width="9" height="52.5"/><text class="a113" x="1118" y="889.5">Transcriptional regulation of pluripotent stem cells: 10</text></g>
<g id="D-CDKN1A"><rect class="fb" x="960" y="22.5" width="9" height="42"/><text class="a11 mid" x="964.5" y="43.5">CDKN1A: 8</text></g>
<g id="D-CASP3"><rect class="fp" x="960" y="73.5" width="9" height="21"/><text class="a11 mid" x="964.5" y="84">CASP3: 4</text></g>
<g id="D-TGFBR2"><rect class="fk" x="960" y="102.5" width="9" height="21"/><text class="a11 mid" x="964.5" y="113">TGFBR2: 4</text></g>
<g id="D-CCND2"><rect class="fy" x="960" y="132.1" width="9" height="15.75"/><text class="a11 mid" x="964.5" y="140">CCND2: 3</text></g>
<g id="D-MYC"><rect class="fl" x="960" y="156.1" width="9" height="15.75"/><text class="a11 mid" x="964.5" y="164">MYC: 3</text></g>
<g id="D-TP53"><rect class="fc" x="960" y="180.1" width="9" height="15.75"/><text class="a11 mid" x="964.5" y="188">TP53: 3</text></g>
<g id="D-BCL2L1"><rect class="fb" x="960" y="204.75" width="9" height="10.5"/><text class="a11 mid" x="964.5" y="210">BCL2L1: 2</text></g>
<g id="D-CASP9"><rect class="fo" x="960" y="222.75" width="9" height="10.5"/><text class="a11 mid" x="964.5" y="228">CASP9: 2</text></g>
<g id="D-CCND1"><rect class="fg" x="960" y="240.75" width="9" height="10.5"/><text class="a11 mid" x="964.5" y="246">CCND1: 2</text></g>
<g id="D-CYCS"><rect class="fr" x="960" y="258.75" width="9" height="10.5"/><text class="a11 mid" x="964.5" y="264">CYCS: 2</text></g>
<g id="D-DUSP2"><rect class="fp" x="960" y="277.75" width="9" height="10.5"/><text class="a11 mid" x="964.5" y="283">DUSP2: 2</text></g>
<g id="D-DUSP8"><rect class="fn" x="960" y="295.75" width="9" height="10.5"/><text class="a11 mid" x="964.5" y="301">DUSP8: 2</text></g>
<g id="D-E2F1"><rect class="fk" x="960" y="314.75" width="9" height="10.5"/><text class="a11 mid" x="964.5" y="320">E2F1: 2</text></g>
<g id="D-E2F2"><rect class="fy" x="960" y="332.75" width="9" height="10.5"/><text class="a11 mid" x="964.5" y="338">E2F2: 2</text></g>
<g id="D-E2F5"><rect class="fl" x="960" y="351.75" width="9" height="10.5"/><text class="a11 mid" x="964.5" y="357">E2F5: 2</text></g>
<g id="D-ESR1"><rect class="fc" x="960" y="369.75" width="9" height="10.5"/><text class="a11 mid" x="964.5" y="375">ESR1: 2</text></g>
<g id="D-MAPK11"><rect class="fb" x="960" y="388.75" width="9" height="10.5"/><text class="a11 mid" x="964.5" y="394">MAPK11: 2</text></g>
<g id="D-MAPK13"><rect class="fo" x="960" y="406.75" width="9" height="10.5"/><text class="a11 mid" x="964.5" y="412">MAPK13: 2</text></g>
<g id="D-MAPK3"><rect class="fg" x="960" y="425.75" width="9" height="10.5"/><text class="a11 mid" x="964.5" y="431">MAPK3: 2</text></g>
<g id="D-MAPK8"><rect class="fr" x="960" y="444.75" width="9" height="10.5"/><text class="a11 mid" x="964.5" y="450">MAPK8: 2</text></g>
<g id="D-NFKB2"><rect class="fp" x="960" y="462.75" width="9" height="10.5"/><text class="a11 mid" x="964.5" y="468">NFKB2: 2</text></g>
<g id="D-NGFR"><rect class="fn" x="960" y="481.75" width="9" height="10.5"/><text class="a11 mid" x="964.5" y="487">NGFR: 2</text></g>
<g id="D-PRDX2"><rect class="fk" x="960" y="500.75" width="9" height="10.5"/><text class="a11 mid" x="964.5" y="506">PRDX2: 2</text></g>
<g id="D-RELA"><rect class="fy" x="960" y="518.75" width="9" height="10.5"/><text class="a11 mid" x="964.5" y="524">RELA: 2</text></g>
<g id="D-SALL4"><rect class="fl" x="960" y="537.75" width="9" height="10.5"/><text class="a11 mid" x="964.5" y="543">SALL4: 2</text></g>
<g id="D-SMAD2"><rect class="fc" x="960" y="556.75" width="9" height="10.5"/><text class="a11 mid" x="964.5" y="562">SMAD2: 2</text></g>
<g id="D-TGFBR1"><rect class="fb" x="960" y="574.75" width="9" height="10.5"/><text class="a11 mid" x="964.5" y="580">TGFBR1: 2</text></g>
<g id="D-THBS1"><rect class="fo" x="960" y="593.75" width="9" height="10.5"/><text class="a11 mid" x="964.5" y="599">THBS1: 2</text></g>
<g id="D-TNF"><rect class="fg" x="960" y="611.75" width="9" height="10.5"/><text class="a11 mid" x="964.5" y="617">TNF: 2</text></g>
<g id="D-ACVR1B"><rect class="fb" x="960" y="630.4" width="9" height="5.25"/><text class="a11 mid" x="964.5" y="633">ACVR1B: 1</text></g>
<g id="D-ACVR1C"><rect class="fo" x="960" y="644.4" width="9" height="5.25"/><text class="a11 mid" x="964.5" y="647">ACVR1C: 1</text></g>
<g id="D-ADRB2"><rect class="fg" x="960" y="657.4" width="9" height="5.25"/><text class="a11 mid" x="964.5" y="660">ADRB2: 1</text></g>
<g id="D-ADRB3"><rect class="fr" x="960" y="670.4" width="9" height="5.25"/><text class="a11 mid" x="964.5" y="673">ADRB3: 1</text></g>
<g id="D-AKT3"><rect class="fp" x="960" y="684.4" width="9" height="5.25"/><text class="a11 mid" x="964.5" y="687">AKT3: 1</text></g>
<g id="D-ATOX1"><rect class="fn" x="960" y="697.4" width="9" height="5.25"/><text class="a11 mid" x="964.5" y="700">ATOX1: 1</text></g>
<g id="D-BCL2"><rect class="fk" x="960" y="710.4" width="9" height="5.25"/><text class="a11 mid" x="964.5" y="713">BCL2: 1</text></g>
<g id="D-BCL2L11"><rect class="fy" x="960" y="724.4" width="9" height="5.25"/><text class="a11 mid" x="964.5" y="727">BCL2L11: 1</text></g>
<g id="D-CCND3"><rect class="fl" x="960" y="737.4" width="9" height="5.25"/><text class="a11 mid" x="964.5" y="740">CCND3: 1</text></g>
<g id="D-CCS"><rect class="fc" x="960" y="750.4" width="9" height="5.25"/><text class="a11 mid" x="964.5" y="753">CCS: 1</text></g>
<g id="D-CDC25A"><rect class="fb" x="960" y="764.4" width="9" height="5.25"/><text class="a11 mid" x="964.5" y="767">CDC25A: 1</text></g>
<g id="D-CDKN1B"><rect class="fo" x="960" y="777.4" width="9" height="5.25"/><text class="a11 mid" x="964.5" y="780">CDKN1B: 1</text></g>
<g id="D-CYBB"><rect class="fg" x="960" y="790.4" width="9" height="5.25"/><text class="a11 mid" x="964.5" y="793">CYBB: 1</text></g>
<g id="D-DUSP1"><rect class="fr" x="960" y="804.4" width="9" height="5.25"/><text class="a11 mid" x="964.5" y="807">DUSP1: 1</text></g>
<g id="D-DUSP16"><rect class="fp" x="960" y="817.4" width="9" height="5.25"/><text class="a11 mid" x="964.5" y="820">DUSP16: 1</text></g>
<g id="D-DUSP4"><rect class="fn" x="960" y="830.4" width="9" height="5.25"/><text class="a11 mid" x="964.5" y="833">DUSP4: 1</text></g>
<g id="D-DUSP5"><rect class="fk" x="960" y="843.4" width="9" height="5.25"/><text class="a11 mid" x="964.5" y="846">DUSP5: 1</text></g>
<g id="D-DUSP7"><rect class="fy" x="960" y="856.4" width="9" height="5.25"/><text class="a11 mid" x="964.5" y="859">DUSP7: 1</text></g>
<g id="D-E2F3"><rect class="fl" x="960" y="870.4" width="9" height="5.25"/><text class="a11 mid" x="964.5" y="873">E2F3: 1</text></g>
<g id="D-E2F4"><rect class="fc" x="960" y="883.4" width="9" height="5.25"/><text class="a11 mid" x="964.5" y="886">E2F4: 1</text></g>
<g id="D-E2F6"><rect class="fb" x="960" y="896.4" width="9" height="5.25"/><text class="a11 mid" x="964.5" y="899">E2F6: 1</text></g>
<g id="D-ERO1A"><rect class="fo" x="960" y="910.4" width="9" height="5.25"/><text class="a11 mid" x="964.5" y="913">ERO1A: 1</text></g>
<g id="D-FAS"><rect class="fg" x="960" y="923.4" width="9" height="5.25"/><text class="a11 mid" x="964.5" y="926">FAS: 1</text></g>
<g id="D-FASLG"><rect class="fr" x="960" y="936.4" width="9" height="5.25"/><text class="a11 mid" x="964.5" y="939">FASLG: 1</text></g>
<g id="D-FOXO3"><rect class="fp" x="960" y="949.4" width="9" height="5.25"/><text class="a11 mid" x="964.5" y="952">FOXO3: 1</text></g>
<g id="D-FOXP1"><rect class="fn" x="960" y="963.4" width="9" height="5.25"/><text class="a11 mid" x="964.5" y="966">FOXP1: 1</text></g>
<g id="D-FYN"><rect class="fk" x="960" y="976.4" width="9" height="5.25"/><text class="a11 mid" x="964.5" y="979">FYN: 1</text></g>
<g id="D-GPX7"><rect class="fy" x="960" y="989.4" width="9" height="5.25"/><text class="a11 mid" x="964.5" y="992">GPX7: 1</text></g>
<g id="D-GPX8"><rect class="fl" x="960" y="1003.4" width="9" height="5.25"/><text class="a11 mid" x="964.5" y="1006">GPX8: 1</text></g>
<g id="D-HIF3A"><rect class="fc" x="960" y="1016.4" width="9" height="5.25"/><text class="a11 mid" x="964.5" y="1019">HIF3A: 1</text></g>
<g id="D-HSPG2"><rect class="fb" x="960" y="1029.4" width="9" height="5.25"/><text class="a11 mid" x="964.5" y="1032">HSPG2: 1</text></g>
<g id="D-IKBKB"><rect class="fo" x="960" y="1043.4" width="9" height="5.25"/><text class="a11 mid" x="964.5" y="1046">IKBKB: 1</text></g>
<g id="D-LIN28A"><rect class="fg" x="960" y="1056.4" width="9" height="5.25"/><text class="a11 mid" x="964.5" y="1059">LIN28A: 1</text></g>
<g id="D-MAP2K7"><rect class="fr" x="960" y="1069.4" width="9" height="5.25"/><text class="a11 mid" x="964.5" y="1072">MAP2K7: 1</text></g>
<g id="D-NOX4"><rect class="fp" x="960" y="1083.4" width="9" height="5.25"/><text class="a11 mid" x="964.5" y="1086">NOX4: 1</text></g>
<g id="D-NOX5"><rect class="fn" x="960" y="1096.4" width="9" height="5.25"/><text class="a11 mid" x="964.5" y="1099">NOX5: 1</text></g>
<g id="D-NR5A1"><rect class="fk" x="960" y="1109.4" width="9" height="5.25"/><text class="a11 mid" x="964.5" y="1112">NR5A1: 1</text></g>
<g id="D-PBX1"><rect class="fy" x="960" y="1123.4" width="9" height="5.25"/><text class="a11 mid" x="964.5" y="1126">PBX1: 1</text></g>
<g id="D-PEA15"><rect class="fl" x="960" y="1136.4" width="9" height="5.25"/><text class="a11 mid" x="964.5" y="1139">PEA15: 1</text></g>
<g id="D-POU2F1"><rect class="fc" x="960" y="1149.4" width="9" height="5.25"/><text class="a11 mid" x="964.5" y="1152">POU2F1: 1</text></g>
<g id="D-POU5F1"><rect class="fb" x="960" y="1163.4" width="9" height="5.25"/><text class="a11 mid" x="964.5" y="1166">POU5F1: 1</text></g>
<g id="D-PRKACA"><rect class="fo" x="960" y="1176.4" width="9" height="5.25"/><text class="a11 mid" x="964.5" y="1179">PRKACA: 1</text></g>
<g id="D-PRKACB"><rect class="fg" x="960" y="1189.4" width="9" height="5.25"/><text class="a11 mid" x="964.5" y="1192">PRKACB: 1</text></g>
<g id="D-PRKAR1B"><rect class="fr" x="960" y="1202.4" width="9" height="5.25"/><text class="a11 mid" x="964.5" y="1205">PRKAR1B: 1</text></g>
<g id="D-PRKAR2A"><rect class="fp" x="960" y="1216.4" width="9" height="5.25"/><text class="a11 mid" x="964.5" y="1219">PRKAR2A: 1</text></g>
<g id="D-STAT3"><rect class="fn" x="960" y="1229.4" width="9" height="5.25"/><text class="a11 mid" x="964.5" y="1232">STAT3: 1</text></g>
<g id="D-TNFRSF11B"><rect class="fk" x="960" y="1242.4" width="9" height="5.25"/><text class="a11 mid" x="964.5" y="1245">TNFRSF11B: 1</text></g>
<g id="D-TNFRSF1B"><rect class="fy" x="960" y="1256.4" width="9" height="5.25"/><text class="a11 mid" x="964.5" y="1259">TNFRSF1B: 1</text></g>
<g id="D-TXNRD2"><rect class="fl" x="960" y="1269.4" width="9" height="5.25"/><text class="a11 mid" x="964.5" y="1272">TXNRD2: 1</text></g>
</g>
</g>
</svg>
